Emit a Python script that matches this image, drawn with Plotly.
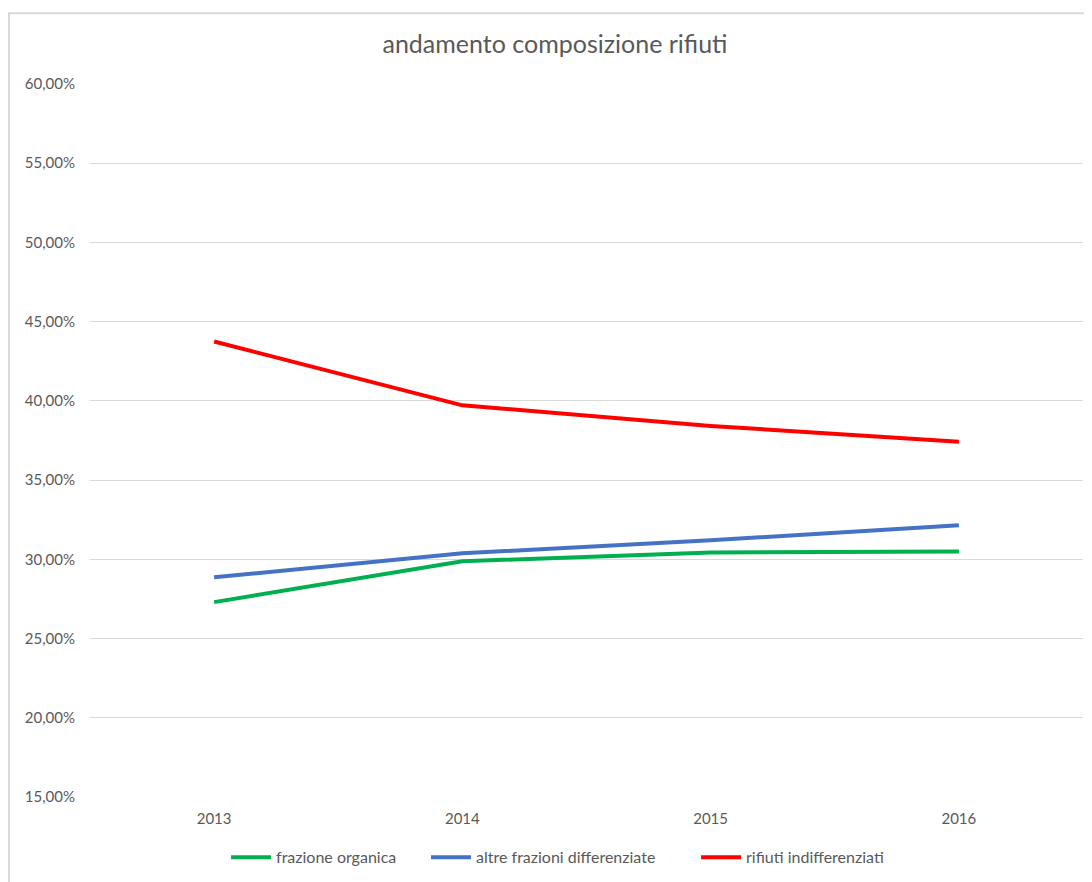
import plotly.graph_objects as go

anni = ["2013", "2014", "2015", "2016"]
frazione_organica = [0.2730, 0.2988, 0.3043, 0.3050]
altre_frazioni = [0.2887, 0.3038, 0.3120, 0.3215]
rifiuti_indiff = [0.4375, 0.3972, 0.3842, 0.3742]
y_ticks = [0.15, 0.20, 0.25, 0.30, 0.35, 0.40, 0.45, 0.50, 0.55, 0.60]

serie = [
    ("frazione organica", frazione_organica, "#00b050"),
    ("altre frazioni differenziate", altre_frazioni, "#4472c4"),
    ("rifiuti indifferenziati", rifiuti_indiff, "#ff0000"),
]

text_color = "#595959"
font_name = "Lato"

# one legend per series so each entry sits where the original has it
legend_ids = ["legend", "legend2", "legend3"]
legend_x = [0.137, 0.3384, 0.6103]

fig = go.Figure()
for (nome, valori, colore), lg in zip(serie, legend_ids):
    fig.add_trace(go.Scatter(
        x=anni, y=valori, mode="lines", name=nome,
        line=dict(color=colore, width=4), legend=lg
    ))

# chart frame (light grey border like the spreadsheet chart area)
fig.add_shape(
    type="rect", xref="paper", yref="paper",
    x0=-0.0816, x1=1.05, y0=-0.3, y1=1.0994,
    line=dict(color="#d9d9d9", width=2), fillcolor="rgba(0,0,0,0)", layer="below"
)

legend_style = dict(
    orientation="h", xanchor="left", y=-0.083, yanchor="middle",
    font=dict(size=16, color=text_color), itemwidth=40,
    bgcolor="rgba(0,0,0,0)"
)

# page body has an 8px margin, so the figure is sized/offset to compensate
fig.update_layout(
    width=1084, height=874,
    margin=dict(l=82, r=9, t=76, b=84),
    paper_bgcolor="white",
    plot_bgcolor="white",
    separators=",.",
    font=dict(family=font_name, color=text_color, size=15),
    title=dict(
        text="andamento composizione rifiuti",
        x=0.5046, xanchor="center", y=0.958, yanchor="middle",
        font=dict(size=25, color=text_color, family=font_name)
    ),
    legend=dict(x=legend_x[0], **legend_style),
    legend2=dict(x=legend_x[1], **legend_style),
    legend3=dict(x=legend_x[2], **legend_style),
    showlegend=True,
)

fig.update_xaxes(
    type="category", range=[-0.5, 3.5],
    showgrid=False, showline=False, zeroline=False,
    ticks="", tickfont=dict(size=15, color=text_color),
    ticklabelstandoff=11
)
fig.update_yaxes(
    range=[0.15, 0.60], tickvals=y_ticks, tickformat=".2%",
    showgrid=True, gridcolor="#d9d9d9", gridwidth=1,
    showline=False, zeroline=False, ticks="",
    tickfont=dict(size=15, color=text_color),
    ticklabelstandoff=14
)

fig.write_html("out.html")
